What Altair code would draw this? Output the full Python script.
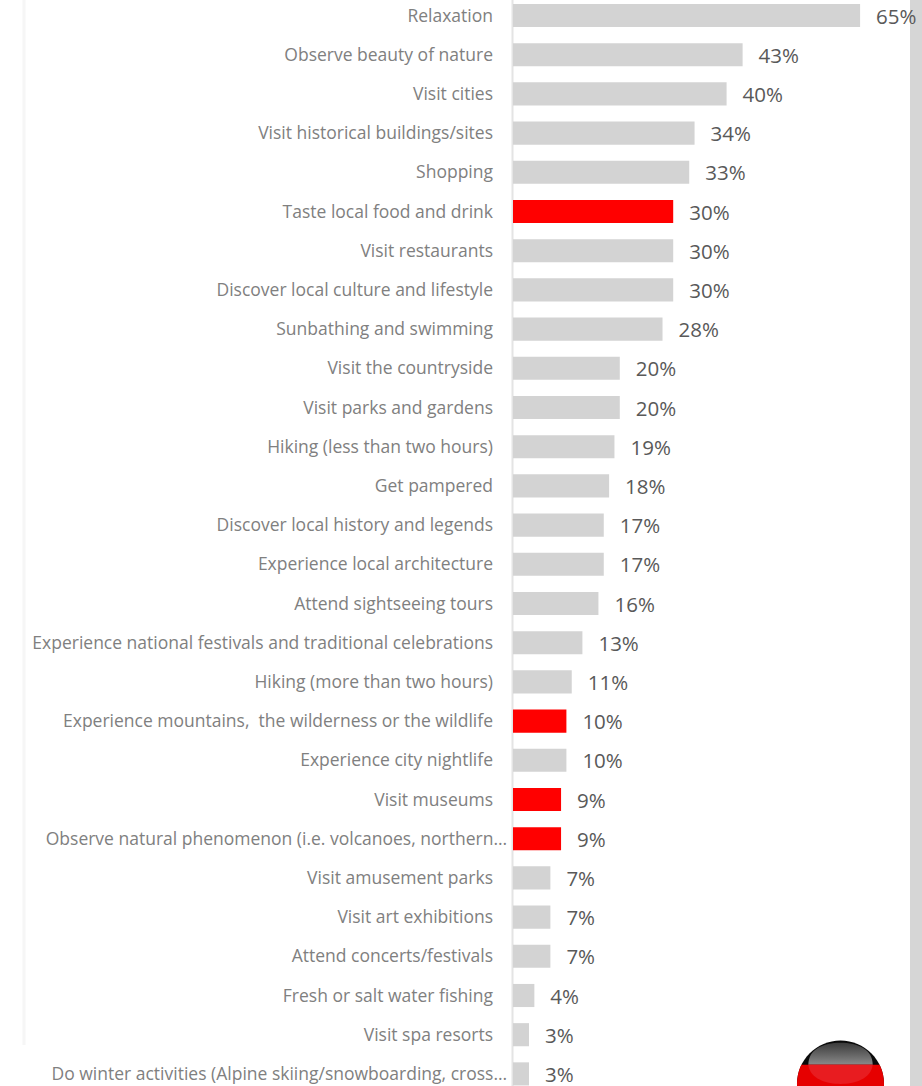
import altair as alt
import pandas as pd

activities = [
    "Relaxation", "Observe beauty of nature", "Visit cities",
    "Visit historical buildings/sites", "Shopping", "Taste local food and drink",
    "Visit restaurants", "Discover local culture and lifestyle",
    "Sunbathing and swimming", "Visit the countryside", "Visit parks and gardens",
    "Hiking (less than two hours)", "Get pampered",
    "Discover local history and legends", "Experience local architecture",
    "Attend sightseeing tours",
    "Experience national festivals and traditional celebrations",
    "Hiking (more than two hours)",
    "Experience mountains,\u00a0 the wilderness or the wildlife",
    "Experience city nightlife", "Visit museums",
    "Observe natural phenomenon (i.e. volcanoes, northern…",
    "Visit amusement parks", "Visit art exhibitions", "Attend concerts/festivals",
    "Fresh or salt water fishing", "Visit spa resorts",
    "Do winter activities (Alpine skiing/snowboarding, cross…",
]
shares = [65, 43, 40, 34, 33, 30, 30, 30, 28, 20, 20, 19, 18, 17, 17, 16, 13, 11,
          10, 10, 9, 9, 7, 7, 7, 4, 3, 3]
highlighted = {
    "Taste local food and drink",
    "Experience mountains,\u00a0 the wilderness or the wildlife",
    "Visit museums",
    "Observe natural phenomenon (i.e. volcanoes, northern…",
}

FONT = "Open Sans"
LABEL_SIZE = 17.5
GREY = "#d3d3d3"
RED = "#ff0000"

df = pd.DataFrame({"activity": activities, "share": shares})
df["group"] = ["focus" if a in highlighted else "other" for a in activities]
df["label"] = df["share"].astype(str) + "%"
df["cut"] = df["activity"].str.endswith("…")

WIDTH = 409
HEIGHT = 1086
y_scale = alt.Scale(domain=activities, range=[-4.1, 1093.5],
                    paddingInner=0.41, paddingOuter=0.205)
x_scale = alt.Scale(domain=[0, WIDTH / 5.34], nice=False, zero=False)

# Clipped labels sit closer to the axis, so they are drawn as their own text layer.
y_axis = alt.Axis(
    title=None, ticks=False, domain=True, domainColor="#e4e4e4", domainWidth=2,
    offset=1, labelFont=FONT, labelFontSize=LABEL_SIZE, labelColor="#808080",
    labelPadding=19.5, labelOffset=1, labelLimit=500,
    labelExpr="indexof(datum.label, '…') >= 0 ? '' : datum.label",
    grid=False,
)

y_enc = alt.Y("activity:N", scale=y_scale, axis=y_axis)
x_enc = alt.X("share:Q", scale=x_scale, axis=None)

base = alt.Chart(df)

# Window furniture: page edge on the left, scroll track on the right.
edge = alt.Chart(pd.DataFrame({"a": [0]})).mark_rule(color="#f6f6f6", size=3).encode(
    x=alt.value(-489), y=alt.value(0), y2=alt.value(1045))
track = alt.Chart(pd.DataFrame({"a": [0]})).mark_rule(color="#d6d6d6", size=12).encode(
    x=alt.value(403), y=alt.value(0), y2=alt.value(HEIGHT))

bars = base.mark_bar().encode(
    x=x_enc,
    y=y_enc,
    color=alt.Color("group:N", legend=None,
                    scale=alt.Scale(domain=["focus", "other"], range=[RED, GREY])),
)

values = base.mark_text(align="left", baseline="middle", dx=16, dy=2, font=FONT,
                        fontSize=20.5, color="#595959").encode(
    x=x_enc, y=y_enc, text="label:N")

cut_labels = base.transform_filter("datum.cut").mark_text(
    align="right", baseline="middle", dy=1, font=FONT, fontSize=LABEL_SIZE,
    color="#808080"
).encode(x=alt.value(-6), y=y_enc, text="activity:N")

# German flag badge, cut off by the bottom of the window.
RADIUS = 43.5
badge_size = (2 * RADIUS) ** 2
badge_src = pd.DataFrame({"a": [0]})
CHORD = "M-0.9,-0.44 L0.9,-0.44 A1,1 0 1,1 -0.9,-0.44 Z"
CAP = "M-0.74,-0.44 C-0.74,-0.8 -0.4,-0.95 0,-0.95 C0.4,-0.95 0.74,-0.8 0.74,-0.44 Z"
BOWL = "M-0.74,-0.44 L0.74,-0.44 C0.7,-0.1 0.3,0 0,0 C-0.3,0 -0.7,-0.1 -0.74,-0.44 Z"
CIRCLE = "M-1,0 A1,1 0 1,1 1,0 A1,1 0 1,1 -1,0 Z"


def badge_part(shape, fill):
    return alt.Chart(badge_src).mark_point(
        shape=shape, filled=True, fill=fill, opacity=1, strokeWidth=0, size=badge_size
    ).encode(x=alt.value(327.5), y=alt.value(1084))


cap_fill = alt.Gradient(gradient="linear", x1=0, x2=0, y1=0, y2=1,
                        stops=[alt.GradientStop(offset=0, color="#3a3a3a"),
                               alt.GradientStop(offset=1, color="#8a8a8a")])
badge = [
    badge_part(CIRCLE, "#0a0a0a"),
    badge_part(CAP, cap_fill),
    badge_part(CHORD, "#e60000"),
    badge_part(BOWL, "#e81c20"),
]

chart = alt.layer(edge, track, bars, values, cut_labels, *badge).properties(
    width=WIDTH,
    height=HEIGHT,
    padding={"left": 513, "right": 0, "top": 0, "bottom": 0},
    autosize=alt.AutoSizeParams(type="none"),
    background="white",
).configure_view(stroke=None)

chart.save("out.html", embed_options={"renderer": "svg", "actions": False})
